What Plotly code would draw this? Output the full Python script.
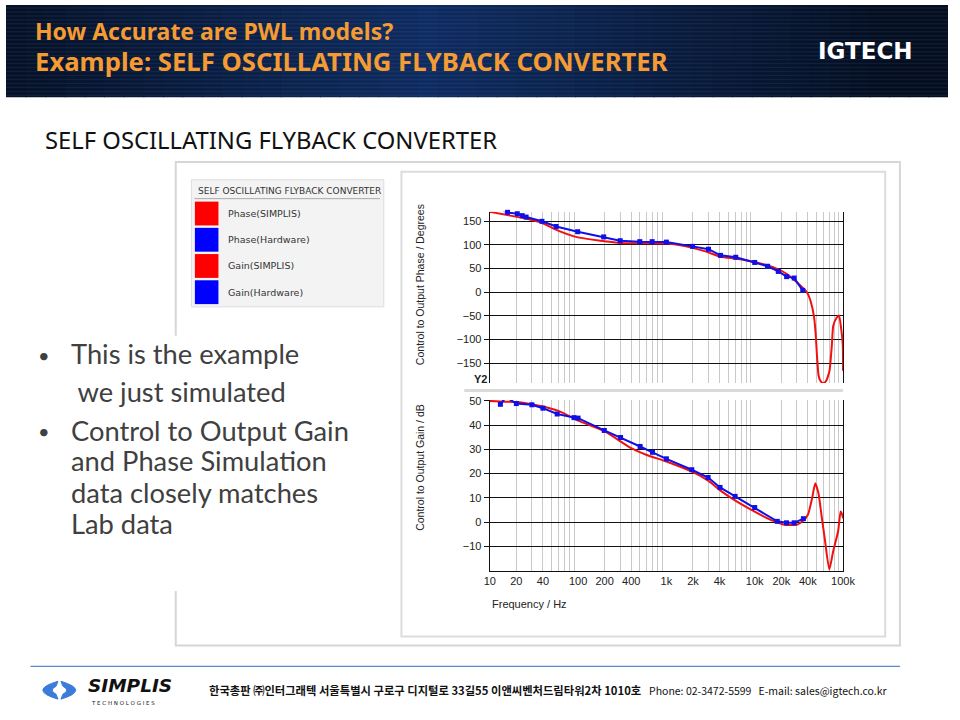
import math
import plotly.graph_objects as go

W, H = 960, 720

# ---- data ----
phase_sim_freq = [10, 17, 27, 40, 55, 100, 200, 300, 1000, 1500, 2700, 4100, 6200, 10000,
                  16700, 23400, 30000, 39000, 43000, 46800, 48900, 51000, 52900, 55000,
                  58000, 62000, 65000, 67500, 70500, 74700, 77600, 84600, 90000, 95000,
                  99300, 100000]
phase_sim_deg = [170, 162, 155, 146, 133, 116, 108, 104, 103, 99, 87, 75, 71, 64,
                 52, 38, 21, 0, -19, -50, -85, -141, -176, -186,
                 -191, -191, -186, -178, -165, -113, -71, -54, -49, -75,
                 -110, -166]

phase_hw_freq = [14.2, 15.9, 20.5, 23.3, 25.8, 39, 56.5, 99, 195, 300, 500, 690, 1000,
                 1980, 3000, 4100, 6100, 10000, 14000, 18500, 23000, 28000, 35000]
phase_hw_deg = [172, 169, 166, 162, 159, 150, 139, 128, 117, 109, 107, 107, 106,
                97, 91, 78, 74, 63, 55, 44, 33, 30, 4]

gain_sim_freq = [10, 15, 20, 30, 40, 60, 100, 200, 400, 600, 1000, 2000, 3000, 4000,
                 5500, 10000, 15000, 18000, 21600, 30000, 34800, 40000, 44700, 48500,
                 52700, 57000, 62000, 70000, 77400, 88000, 94000, 98000, 100000]
gain_sim_db = [50, 49.7, 49.5, 48.6, 47.7, 45.9, 41.9, 37.4, 30.5, 27.7, 25, 20.6, 17, 13.3,
               9.8, 4.3, 1, -0.1, -1.1, -1.1, 0.3, 3, 9.9, 16,
               11.9, 3, -6.6, -19.6, -12, -3.8, 4.4, 3, 1.6]

gain_hw_freq = [13.2, 15.3, 20, 30, 40, 58, 90, 100, 198, 303, 504, 696, 1000, 1940,
                2970, 4050, 6000, 10000, 18000, 22900, 28000, 35600]
gain_hw_db = [48.6, 51.6, 48.9, 48.4, 47, 44.6, 43.1, 42.9, 37.8, 34.9, 31.2, 28.8, 26.1, 21.6,
              18.4, 14.3, 10.6, 6, 0.3, -0.3, -0.3, 1.4]

freq_tickvals = [10, 20, 40, 100, 200, 400, 1000, 2000, 4000, 10000, 20000, 40000, 100000]
freq_ticktext = ["10", "20", "40", "100", "200", "400", "1k", "2k", "4k", "10k", "20k", "40k", "100k"]
decades = [100, 1000, 10000]
minor_vals = [m * d for d in [10, 100, 1000, 10000] for m in range(2, 10)]

phase_ticks = [150, 100, 50, 0, -50, -100, -150]
gain_ticks = [50, 40, 30, 20, 10, 0, -10]

legend_names = ["Phase(SIMPLIS)", "Phase(Hardware)", "Gain(SIMPLIS)", "Gain(Hardware)"]
legend_colors = ["#ff0000", "#0000ff", "#ff0000", "#0000ff"]

bullet_lines = ["This is the example", " we just simulated", "Control to Output Gain",
                "and Phase Simulation", "data closely matches", "Lab data"]

RED = "#f01010"
BLUE = "#1010e6"


def px(x):
    return x / W


def py(y):
    return 1 - y / H


fig = go.Figure()

fig.add_trace(go.Scatter(x=phase_sim_freq, y=phase_sim_deg, mode="lines", name="Phase(SIMPLIS)",
                         line=dict(color=RED, width=2, shape="spline", smoothing=0.6),
                         xaxis="x", yaxis="y"))
fig.add_trace(go.Scatter(x=phase_hw_freq, y=phase_hw_deg, mode="lines+markers", name="Phase(Hardware)",
                         line=dict(color=BLUE, width=2), marker=dict(symbol="square", size=5, color=BLUE),
                         xaxis="x", yaxis="y", cliponaxis=False))
fig.add_trace(go.Scatter(x=gain_sim_freq, y=gain_sim_db, mode="lines", name="Gain(SIMPLIS)",
                         line=dict(color=RED, width=2, shape="spline", smoothing=0.6),
                         xaxis="x2", yaxis="y2"))
fig.add_trace(go.Scatter(x=gain_hw_freq, y=gain_hw_db, mode="lines+markers", name="Gain(Hardware)",
                         line=dict(color=BLUE, width=2), marker=dict(symbol="square", size=5, color=BLUE),
                         xaxis="x2", yaxis="y2", cliponaxis=False))

tick_font = dict(family="Liberation Sans, Arial", size=11, color="#222222")
x_dom = [px(493), px(853)]

xcommon = dict(type="log", range=[1, 5], domain=x_dom, tickvals=freq_tickvals, ticktext=freq_ticktext,
               showgrid=False, zeroline=False, ticks="", tickfont=tick_font,
               minor=dict(tickvals=minor_vals, showgrid=True, gridcolor="#c9c9c9", gridwidth=1.3, ticks=""))

fig.update_layout(
    width=W, height=H, margin=dict(l=0, r=0, t=0, b=0),
    paper_bgcolor="white", plot_bgcolor="rgba(0,0,0,0)", showlegend=False,
    xaxis=dict(xcommon, anchor="y", showticklabels=False, showline=False),
    yaxis=dict(domain=[py(380.7), py(208.3)], range=[-192, 170], tickvals=phase_ticks,
               showgrid=True, gridcolor="#111111", gridwidth=1.2, zeroline=False,
               showline=True, mirror=True, linecolor="#111111", linewidth=1.3,
               ticks="outside", ticklen=5, tickcolor="#111111", tickfont=tick_font, anchor="x"),
    xaxis2=dict(xcommon, anchor="y2", showline=True, linecolor="#111111", linewidth=1.3),
    yaxis2=dict(domain=[py(569.5), py(397.7)], range=[-20, 50.4], tickvals=gain_ticks,
                showgrid=True, gridcolor="#111111", gridwidth=1.2, zeroline=False,
                showline=True, mirror=True, linecolor="#111111", linewidth=1.3,
                ticks="outside", ticklen=5, tickcolor="#111111", tickfont=tick_font, anchor="x2"),
)

shapes = []

# header band with a soft horizontal glow
n_strips = 48
for i in range(n_strips):
    x0 = i * W / n_strips
    t = max(0.0, 1 - abs((x0 + 10) - 430) / 470)
    r = int(5 + 10 * t)
    g = int(14 + 30 * t)
    b = int(30 + 66 * t)
    shapes.append(dict(type="rect", xref="paper", yref="paper", x0=px(x0), x1=min(1, px(x0 + W / n_strips + 1)),
                       y0=py(93), y1=1, fillcolor=f"rgb({r},{g},{b})", line=dict(width=0), layer="below"))
for yy in range(3, 93, 4):
    shapes.append(dict(type="line", xref="paper", yref="paper", x0=0, x1=1, y0=py(yy), y1=py(yy),
                       line=dict(color="rgba(110,150,230,0.10)", width=1.5), layer="below"))

# screenshot frames
shapes.append(dict(type="rect", xref="paper", yref="paper", x0=px(173), x1=px(911), y0=py(645), y1=py(158),
                   line=dict(color="#d6d6d6", width=2), fillcolor="rgba(0,0,0,0)", layer="below"))
shapes.append(dict(type="rect", xref="paper", yref="paper", x0=px(403), x1=px(896), y0=py(636), y1=py(168),
                   line=dict(color="#dcdcdc", width=2), fillcolor="rgba(0,0,0,0)", layer="below"))
# legend box of the screenshot
shapes.append(dict(type="rect", xref="paper", yref="paper", x0=px(189), x1=px(385), y0=py(304), y1=py(176),
                   line=dict(color="#dedede", width=1), fillcolor="#f3f3f3", layer="below"))
shapes.append(dict(type="line", xref="paper", yref="paper", x0=px(192), x1=px(381), y0=py(195), y1=py(195),
                   line=dict(color="#a8a8a8", width=1), layer="below"))
for i, c in enumerate(legend_colors):
    top = 198 + i * 26.4
    shapes.append(dict(type="rect", xref="paper", yref="paper", x0=px(192.5), x1=px(216.5),
                       y0=py(top + 24), y1=py(top), fillcolor=c, line=dict(width=0), layer="below"))

# white panel covering left side where bullets sit
shapes.append(dict(type="rect", xref="paper", yref="paper", x0=px(20), x1=px(392), y0=py(590), y1=py(333),
                   fillcolor="white", line=dict(width=0), layer="below"))

# separator between the two plots
shapes.append(dict(type="line", xref="paper", yref="paper", x0=px(467), x1=px(853), y0=py(388.3), y1=py(388.3),
                   line=dict(color="#dadada", width=3), layer="below"))

# black decade grid lines
for d in decades:
    shapes.append(dict(type="line", xref="x", yref="y domain", x0=math.log10(d), x1=math.log10(d), y0=0, y1=1,
                       line=dict(color="#111111", width=1.3), layer="below"))
    shapes.append(dict(type="line", xref="x2", yref="y2 domain", x0=math.log10(d), x1=math.log10(d), y0=0, y1=1,
                       line=dict(color="#111111", width=1.3), layer="below"))

# footer rule
shapes.append(dict(type="line", xref="paper", yref="paper", x0=px(25), x1=px(911), y0=py(666), y1=py(666),
                   line=dict(color="#5b8bc6", width=1.2)))

# SIMPLIS logo crescents
left_cres = "M {},{} Q {},{} {},{} L {},{} Q {},{} {},{} Z".format(
    px(53), py(681), px(22), py(690), px(53), py(699), px(51), py(694), px(43), py(690), px(51), py(686))
right_cres = "M {},{} Q {},{} {},{} L {},{} Q {},{} {},{} Z".format(
    px(56), py(681), px(86), py(690), px(56), py(699), px(58), py(694), px(66), py(690), px(58), py(686))
for p in (left_cres, right_cres):
    shapes.append(dict(type="path", xref="paper", yref="paper", path=p,
                       fillcolor="#3b7bd9", line=dict(color="#3b7bd9", width=1)))

fig.update_layout(shapes=shapes)

ann = []


def text(x, y, s, size, color="#000", family="Noto Sans", xanchor="left", yanchor="middle", **kw):
    ann.append(dict(x=px(x), y=py(y), xref="paper", yref="paper", text=s, showarrow=False,
                    xanchor=xanchor, yanchor=yanchor, font=dict(size=size, color=color, family=family, **kw)))


# header
text(28, 26, "How Accurate are PWL models?", 23, "#f59b33", weight="bold")
text(28, 57, "Example: SELF OSCILLATING FLYBACK CONVERTER", 25.7, "#f59b33", weight="bold")
text(926, 46, "IGTECH", 23, "white", family="DejaVu Sans", xanchor="right", weight="bold")

# subtitle
text(38, 136, "SELF OSCILLATING FLYBACK CONVERTER", 23.8, "#111111")

# legend texts
text(194, 187, "SELF OSCILLATING FLYBACK CONVERTER", 9, "#333333", family="DejaVu Sans")
for i, name in enumerate(legend_names):
    text(224, 210 + i * 26.4, name, 9.5, "#333333", family="DejaVu Sans")

# bullets
bullet_y = [351, 389, 428, 459, 491, 522]
for s, y in zip(bullet_lines, bullet_y):
    text(64, y, s.replace(" ", "&nbsp;", 1) if s.startswith(" ") else s, 27.3, "#404040", family="Lato")
text(31, 352, "•", 20, "#404040", family="Lato")
text(31, 429, "•", 20, "#404040", family="Lato")

# axis titles
ann.append(dict(x=px(422), y=py(282), xref="paper", yref="paper", text="Control to Output Phase / Degrees",
                showarrow=False, textangle=-90, font=dict(size=10.5, color="#222", family="Liberation Sans, Arial")))
ann.append(dict(x=px(422), y=py(466), xref="paper", yref="paper", text="Control to Output Gain / dB",
                showarrow=False, textangle=-90, font=dict(size=10.5, color="#222", family="Liberation Sans, Arial")))
text(493, 603, "Frequency / Hz", 11, "#222222", family="Liberation Sans, Arial")
text(492, 377, "Y2", 11, "#222222", family="Liberation Sans, Arial", xanchor="right", weight="bold")

# footer
text(82, 698, "SIMPLIS", 18.5, "#111111", family="DejaVu Sans", yanchor="bottom", weight="bold", style="italic")
text(85, 698, "T E C H N O L O G I E S", 5.5, "#111111", family="DejaVu Sans", yanchor="top")
text(205, 690, "한국총판 ㈜인터그래텍 서울특별시 구로구 디지털로 33길55 이앤씨벤처드림타워2차 1010호", 11.3,
     "#111111", family="Noto Sans CJK KR", weight="bold")
text(901, 690, "Phone: 02-3472-5599&nbsp;&nbsp;&nbsp;E-mail: sales@igtech.co.kr", 10.5, "#111111",
     family="Noto Sans CJK KR", xanchor="right")

fig.update_layout(annotations=ann)

# drop the browser's default 8px body margin so the slide fills the window
fig.write_html("out.html", config={"displayModeBar": False},
               post_script="document.body.style.margin='0';document.body.style.overflow='hidden';")
